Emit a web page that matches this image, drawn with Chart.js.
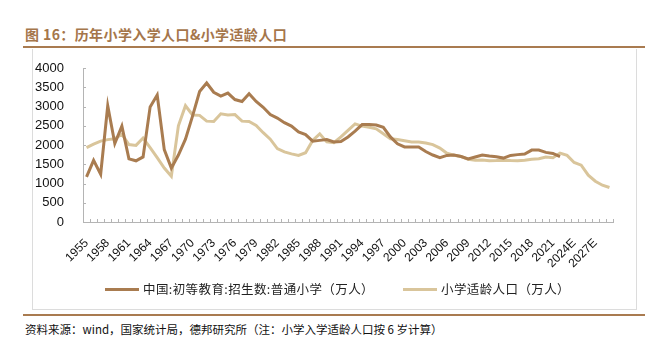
<!DOCTYPE html>
<html>
<head>
<meta charset="utf-8">
<script src="https://cdn.jsdelivr.net/npm/chart.js@4.4.1/dist/chart.umd.min.js"></script>
<style>
  body { margin: 0; width: 654px; height: 350px; background: #fff; position: relative; overflow: hidden; font-family: "Noto Sans CJK SC", sans-serif; }
  .title { position: absolute; left: 25px; top: 24px; font-size: 14px; font-weight: bold; letter-spacing: 0.4px; color: #a5764b; line-height: 20px; white-space: nowrap; }
  .rule { position: absolute; left: 23px; width: 622px; height: 2px; background: #a97b50; }
  .box { position: absolute; left: 32px; top: 49px; width: 603px; height: 260px; border: 1px solid #dcdcdc; border-top: none; }
  #wrap { position: absolute; left: 32px; top: 48px; width: 604px; height: 262px; }
  .legend { position: absolute; top: 280px; font-size: 12.5px; letter-spacing: 0.4px; line-height: 18px; color: #222; white-space: nowrap; }
  .legend i { position: absolute; top: 8px; width: 34px; height: 3px; }
  .legend span { position: absolute; top: 0; }
  .source { position: absolute; left: 25px; top: 320px; font-size: 11.5px; line-height: 18px; color: #111; white-space: nowrap; }
</style>
</head>
<body>
<div class="title">图 16：历年小学入学人口&amp;小学适龄人口</div>
<div class="rule" style="top:46px"></div>
<div class="box"></div>
<div id="wrap"><canvas id="chart" width="604" height="262"></canvas></div>
<div class="legend" style="left:105px"><i style="left:0;background:#a97c50"></i><span style="left:38px">中国:初等教育:招生数:普通小学（万人）</span></div>
<div class="legend" style="left:403px"><i style="left:0;background:#d9c59b"></i><span style="left:38px">小学适龄人口（万人）</span></div>
<div class="rule" style="top:314px"></div>
<div class="source">资料来源：wind，国家统计局，德邦研究所（注：小学入学适龄人口按 6 岁计算）</div>

<script>
const years = [
  '1955', '1956', '1957', '1958', '1959', '1960', '1961', '1962', '1963', '1964',
  '1965', '1966', '1967', '1968', '1969', '1970', '1971', '1972', '1973', '1974',
  '1975', '1976', '1977', '1978', '1979', '1980', '1981', '1982', '1983', '1984',
  '1985', '1986', '1987', '1988', '1989', '1990', '1991', '1992', '1993', '1994',
  '1995', '1996', '1997', '1998', '1999', '2000', '2001', '2002', '2003', '2004',
  '2005', '2006', '2007', '2008', '2009', '2010', '2011', '2012', '2013', '2014',
  '2015', '2016', '2017', '2018', '2019', '2020', '2021', '2022', '2023E', '2024E',
  '2025E', '2026E', '2027E', '2028E', '2029E'
];

// 中国:初等教育:招生数:普通小学（万人）, 1955-2022
const enrollment = [
  1170, 1600, 1240, 3020, 2040, 2490, 1640, 1590, 1690, 2990,
  3300, 1880, 1400, 1740, 2150, 2750, 3390, 3610, 3370, 3270,
  3350, 3180, 3130, 3330, 3130, 2980, 2790, 2700, 2580, 2490,
  2340, 2270, 2100, 2120, 2140, 2080, 2090, 2210, 2360, 2530,
  2530, 2520, 2460, 2210, 2030, 1950, 1950, 1950, 1830, 1740,
  1670, 1730, 1740, 1700, 1640, 1690, 1740, 1715, 1695, 1660,
  1730, 1750, 1765, 1867, 1869, 1808, 1782, 1701, null, null,
  null, null, null, null, null
];

// 小学适龄人口（万人）, 1955-2029E
const schoolAge = [
  1930, 2020, 2100, 2140, 2160, 2280, 2010, 1990, 2180, 1930,
  1670, 1400, 1190, 2500, 3020, 2780, 2770, 2620, 2610, 2810,
  2780, 2790, 2620, 2610, 2510, 2320, 2150, 1905, 1820, 1770,
  1730, 1800, 2120, 2290, 2080, 2060, 2210, 2380, 2550, 2490,
  2460, 2420, 2290, 2160, 2140, 2110, 2080, 2080, 2050, 2010,
  1920, 1785, 1735, 1700, 1630, 1605, 1610, 1590, 1595, 1605,
  1595, 1590, 1605, 1630, 1645, 1690, 1670, 1790, 1730, 1545,
  1475, 1215, 1060, 955, 895
];

const yTicks = [0, 500, 1000, 1500, 2000, 2500, 3000, 3500, 4000];

const axisColor = '#b4b4b4';

// small inward tick marks like the original
const axisTicks = {
  id: 'axisTicks',
  beforeDatasetsDraw(chart) {
    const { ctx, chartArea, scales } = chart;
    ctx.save();
    ctx.strokeStyle = axisColor;
    ctx.lineWidth = 1;
    ctx.beginPath();
    yTicks.forEach(v => {
      const py = Math.round(scales.y.getPixelForValue(v)) + 0.5;
      ctx.moveTo(chartArea.left, py);
      ctx.lineTo(chartArea.left + 3, py);
    });
    const step = (chartArea.right - chartArea.left) / years.length;
    for (let i = 0; i <= years.length; i++) {
      const px = Math.round(chartArea.left + i * step) + 0.5;
      ctx.moveTo(px, chartArea.bottom);
      ctx.lineTo(px, chartArea.bottom - 3);
    }
    ctx.stroke();
    ctx.restore();
  }
};

new Chart(document.getElementById('chart'), {
  type: 'line',
  data: {
    labels: years,
    datasets: [
      {
        label: '中国:初等教育:招生数:普通小学（万人）',
        data: enrollment,
        borderColor: '#a97c50',
        borderWidth: 3,
        pointRadius: 0,
        tension: 0,
        spanGaps: false
      },
      {
        label: '小学适龄人口（万人）',
        data: schoolAge,
        borderColor: '#d9c59b',
        borderWidth: 3,
        pointRadius: 0,
        tension: 0
      }
    ]
  },
  options: {
    responsive: false,
    animation: false,
    devicePixelRatio: 1,
    layout: { padding: { top: 20, right: 23, left: 0, bottom: 0 } },
    plugins: {
      legend: { display: false },
      tooltip: { enabled: false }
    },
    scales: {
      x: {
        offset: true,
        grid: { display: false, offset: true },
        border: { display: true, color: axisColor, width: 1 },
        ticks: {
          autoSkip: false,
          maxRotation: 45,
          minRotation: 45,
          padding: 6,
          color: '#111',
          font: { family: '"Liberation Sans", Arial, sans-serif', size: 12 },
          callback: (v, i) => (i % 3 === 0 ? years[i] : '')
        },
        afterFit: (scale) => { scale.height = 88; }
      },
      y: {
        min: 0,
        max: 4000,
        grid: { display: false },
        border: { display: true, color: axisColor, width: 1 },
        ticks: {
          stepSize: 500,
          padding: 11,
          color: '#111',
          font: { family: '"Liberation Sans", Arial, sans-serif', size: 13 },
          callback: (v) => String(v)
        },
        afterFit: (scale) => { scale.width = 51; }
      }
    }
  },
  plugins: [axisTicks]
});
</script>
</body>
</html>
